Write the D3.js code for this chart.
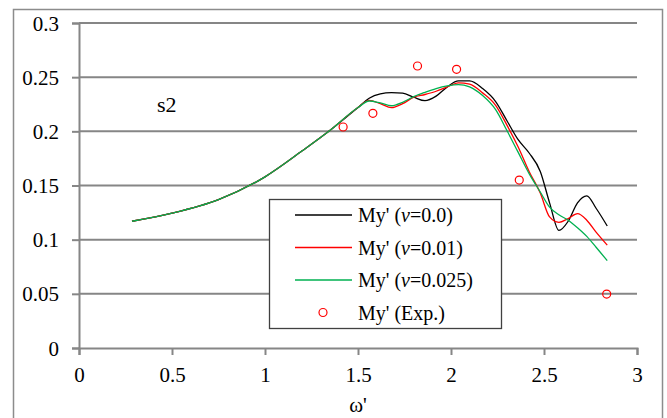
<!DOCTYPE html>
<html>
<head>
<meta charset="utf-8">
<script src="https://cdn.jsdelivr.net/npm/d3@7"></script>
<style>
  body { margin: 0; background: #fff; }
</style>
</head>
<body>
<div class="chart"></div>
<script>
// frequency grid (omega') shared by the three computed curves
var omega = [0.285, 0.5, 0.75, 1.0, 1.2, 1.35, 1.5, 1.56, 1.62, 1.68, 1.74, 1.8, 1.86, 1.92, 1.98,
             2.04, 2.1, 2.17, 2.24, 2.3, 2.36, 2.42, 2.48, 2.53, 2.58, 2.63, 2.68, 2.73, 2.78, 2.84];

var myNu0 = [0.117, 0.1245, 0.137, 0.158, 0.182, 0.201, 0.222, 0.2305, 0.2345, 0.2357, 0.2352, 0.2315, 0.2283, 0.2325, 0.241,
             0.2465, 0.2465, 0.2395, 0.2275, 0.21, 0.1925, 0.180, 0.163, 0.134, 0.1085, 0.117, 0.134, 0.1405, 0.129, 0.1126];

var myNu001 = [0.117, 0.1245, 0.137, 0.158, 0.182, 0.201, 0.222, 0.2285, 0.2255, 0.2218, 0.2255, 0.2315, 0.234, 0.237, 0.241,
               0.2448, 0.2435, 0.2355, 0.224, 0.206, 0.186, 0.163, 0.143, 0.121, 0.116, 0.1195, 0.124, 0.118, 0.107, 0.095];

var myNu0025 = [0.117, 0.1245, 0.137, 0.158, 0.182, 0.201, 0.222, 0.228, 0.2262, 0.2236, 0.2268, 0.232, 0.236, 0.2395, 0.242,
                0.2432, 0.241, 0.233, 0.22, 0.201, 0.181, 0.161, 0.144, 0.130, 0.123, 0.118, 0.111, 0.103, 0.093, 0.0806];

// experiment
var expOmega = [1.42, 1.58, 1.82, 2.03, 2.367, 2.837];
var expMy = [0.204, 0.2166, 0.2603, 0.2572, 0.155, 0.0498];

var xTicks = [0, 0.5, 1, 1.5, 2, 2.5, 3];
var yTicks = [0, 0.05, 0.1, 0.15, 0.2, 0.25, 0.3];

var series = [
  { name: "0.0", values: myNu0, color: "#000000" },
  { name: "0.01", values: myNu001, color: "#ff0000" },
  { name: "0.025", values: myNu0025, color: "#00b050" }
];

const width = 667, height = 418;
const serif = "'Liberation Serif', 'Times New Roman', serif";

const svg = d3.select('.chart').append('svg')
  .attr('width', width)
  .attr('height', height);

// outer frame
svg.append('rect')
  .attr('x', 13.5).attr('y', 9.5)
  .attr('width', 649).attr('height', 430)
  .attr('fill', 'none')
  .attr('stroke', '#8c8c8c')
  .attr('stroke-width', 1.5);

const x = d3.scaleLinear().domain([0, 3]).range([79, 637]);
const y = d3.scaleLinear().domain([0, 0.3]).range([348, 23]);

const gridColor = '#868686';

// horizontal gridlines
svg.append('g').selectAll('line')
  .data(yTicks.filter(d => d > 0))
  .enter().append('line')
  .attr('x1', x(0)).attr('x2', x(3))
  .attr('y1', d => y(d)).attr('y2', d => y(d))
  .attr('stroke', gridColor)
  .attr('stroke-width', 2);

// y axis
const yAxis = svg.append('g')
  .attr('transform', `translate(${x(0)},0)`)
  .call(d3.axisLeft(y).tickValues(yTicks).tickSize(7).tickPadding(13)
    .tickFormat(d => d3.format('')(+d.toFixed(2))));
yAxis.select('.domain').attr('stroke', gridColor).attr('stroke-width', 2);
yAxis.selectAll('.tick line').attr('stroke', gridColor).attr('stroke-width', 2);
yAxis.selectAll('.tick text').attr('font-size', 21).attr('dy', '0.34em');

// x axis
const xAxis = svg.append('g')
  .attr('transform', `translate(0,${y(0)})`)
  .call(d3.axisBottom(x).tickValues(xTicks).tickSize(7).tickPadding(12)
    .tickFormat(d => d3.format('')(d)));
xAxis.select('.domain').attr('stroke', gridColor).attr('stroke-width', 2);
xAxis.selectAll('.tick line').attr('stroke', gridColor).attr('stroke-width', 2);
xAxis.selectAll('.tick text').attr('font-size', 21);

// axis title
svg.append('text')
  .attr('x', 358).attr('y', 412)
  .attr('text-anchor', 'middle')
  .attr('font-size', 21)
  .text("ω'");

// panel label
svg.append('text')
  .attr('x', 157).attr('y', 112)
  .attr('font-size', 22)
  .text('s2');

// curves
const line = d3.line()
  .x((d, i) => x(omega[i]))
  .y(d => y(d))
  .curve(d3.curveMonotoneX);

svg.append('g').selectAll('path')
  .data(series)
  .enter().append('path')
  .attr('d', d => line(d.values))
  .attr('fill', 'none')
  .attr('stroke', d => d.color)
  .attr('stroke-width', 1.3);

// experimental points
svg.append('g').selectAll('circle')
  .data(expOmega)
  .enter().append('circle')
  .attr('cx', d => x(d))
  .attr('cy', (d, i) => y(expMy[i]))
  .attr('r', 4)
  .attr('fill', 'none')
  .attr('stroke', '#ff0000')
  .attr('stroke-width', 1.2);

// legend
const legend = svg.append('g');
legend.append('rect')
  .attr('x', 269.5).attr('y', 199.5)
  .attr('width', 232).attr('height', 129)
  .attr('fill', '#fff')
  .attr('stroke', '#404040')
  .attr('stroke-width', 1.3);

const rowY = [215, 247.5, 280, 312.5];
series.forEach((s, i) => {
  legend.append('line')
    .attr('x1', 295).attr('x2', 352)
    .attr('y1', rowY[i]).attr('y2', rowY[i])
    .attr('stroke', s.color).attr('stroke-width', 1.3);
  const t = legend.append('text')
    .attr('x', 358).attr('y', rowY[i] + 7)
    .attr('font-size', 20);
  t.append('tspan').text("My' (");
  t.append('tspan').attr('font-style', 'italic').text('ν');
  t.append('tspan').text('=' + s.name + ')');
});
legend.append('circle')
  .attr('cx', 323).attr('cy', rowY[3])
  .attr('r', 4)
  .attr('fill', 'none')
  .attr('stroke', '#ff0000')
  .attr('stroke-width', 1.2);
legend.append('text')
  .attr('x', 358).attr('y', rowY[3] + 7)
  .attr('font-size', 20)
  .text("My' (Exp.)");

// all texts in Times-like serif, black
svg.selectAll('text')
  .style('font-family', serif)
  .attr('fill', '#000');
</script>
</body>
</html>
